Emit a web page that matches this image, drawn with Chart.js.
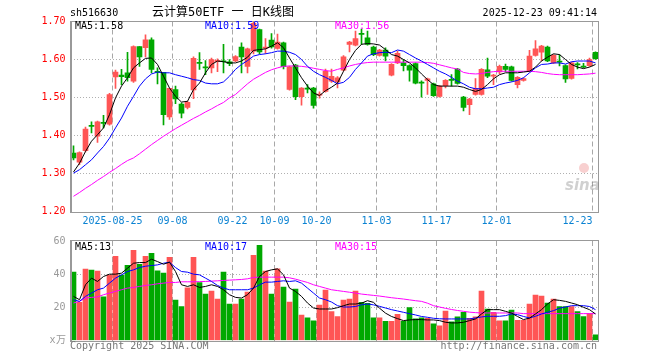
<!DOCTYPE html>
<html lang="zh-CN">
<head>
<meta charset="UTF-8">
<title>云计算50ETF 日K线图</title>
<script src="https://cdn.jsdelivr.net/npm/chart.js"></script>
<style>
  html, body { margin: 0; padding: 0; background: #fff; }
  #wrap { position: relative; width: 660px; height: 360px; }
  canvas { position: absolute; left: 0; }
  #kline { top: 0; }
  #vol { top: 230px; }
</style>
</head>
<body>
<div id="wrap">
  <canvas id="kline" width="660" height="232" style="width:660px;height:232px"></canvas>
  <canvas id="vol" width="660" height="130" style="width:660px;height:130px"></canvas>
</div>
<script>
// trading days shown on the chart
const dates = ['08-14','08-15','08-18','08-19','08-20','08-21','08-22','08-25','08-26','08-27','08-28','08-29',
  '09-01','09-02','09-03','09-04','09-05','09-08','09-09','09-10','09-11','09-12','09-15','09-16','09-17','09-18','09-19',
  '09-22','09-23','09-24','09-25','09-26','09-29','09-30',
  '10-09','10-10','10-13','10-14','10-15','10-16','10-17','10-20','10-21','10-22','10-23','10-24','10-27','10-28','10-29','10-30','10-31',
  '11-03','11-04','11-05','11-06','11-07','11-10','11-11','11-12','11-13','11-14','11-17','11-18','11-19','11-20','11-21',
  '11-24','11-25','11-26','11-27','11-28',
  '12-01','12-02','12-03','12-04','12-05','12-08','12-09','12-10','12-11','12-12','12-15','12-16','12-17','12-18','12-19','12-22','12-23'];

// date labels on the x axis
const tickIdx = [7, 17, 27, 34, 41, 51, 61, 71, 87];
const tickLabels = ['2025-08-25', '09-08', '09-22', '10-09', '10-20', '11-03', '11-17', '12-01', '12-23'];

// daily K line
const open = [
  1.354,1.330,1.360,1.427,1.398,1.434,1.430,1.554,1.559,1.565,
  1.543,1.634,1.631,1.652,1.568,1.566,1.449,1.521,1.483,1.474,
  1.520,1.592,1.580,1.578,1.594,1.596,1.594,1.596,1.633,1.582,
  1.622,1.679,1.630,1.651,1.629,1.644,1.521,1.585,1.502,1.524,
  1.525,1.506,1.516,1.543,1.541,1.572,1.640,1.638,1.668,1.657,
  1.633,1.611,1.625,1.559,1.591,1.591,1.584,1.589,1.540,1.545,
  1.536,1.503,1.531,1.547,1.575,1.501,1.481,1.508,1.508,1.573,
  1.556,1.567,1.582,1.581,1.534,1.545,1.569,1.611,1.619,1.633,
  1.591,1.595,1.584,1.550,1.588,1.583,1.584,1.619];
const close = [
  1.341,1.355,1.417,1.424,1.436,1.432,1.508,1.567,1.555,1.552,
  1.634,1.607,1.652,1.574,1.566,1.455,1.524,1.496,1.459,1.487,
  1.603,1.590,1.578,1.600,1.598,1.594,1.589,1.608,1.607,1.628,
  1.695,1.620,1.633,1.633,1.646,1.581,1.581,1.502,1.525,1.522,
  1.479,1.509,1.569,1.556,1.552,1.607,1.646,1.655,1.666,1.640,
  1.613,1.625,1.609,1.587,1.616,1.584,1.572,1.538,1.538,1.549,
  1.505,1.530,1.545,1.545,1.537,1.474,1.496,1.524,1.574,1.556,
  1.559,1.582,1.574,1.545,1.553,1.550,1.609,1.628,1.635,1.596,
  1.611,1.593,1.549,1.591,1.586,1.580,1.600,1.602];
const high = [
  1.373,1.357,1.422,1.436,1.438,1.453,1.511,1.572,1.574,1.619,
  1.636,1.634,1.665,1.657,1.578,1.566,1.524,1.530,1.486,1.490,
  1.607,1.618,1.597,1.604,1.602,1.640,1.600,1.610,1.644,1.630,
  1.705,1.680,1.655,1.668,1.667,1.646,1.583,1.587,1.526,1.534,
  1.527,1.515,1.575,1.575,1.555,1.610,1.648,1.675,1.680,1.675,
  1.635,1.627,1.631,1.589,1.622,1.600,1.586,1.591,1.544,1.551,
  1.538,1.532,1.547,1.560,1.577,1.503,1.498,1.550,1.576,1.604,
  1.561,1.585,1.588,1.583,1.555,1.552,1.624,1.650,1.637,1.635,
  1.613,1.612,1.586,1.593,1.592,1.590,1.604,1.620];
const low = [
  1.336,1.323,1.357,1.407,1.382,1.420,1.427,1.524,1.534,1.543,
  1.540,1.582,1.607,1.565,1.536,1.428,1.442,1.484,1.446,1.470,
  1.497,1.574,1.560,1.565,1.568,1.565,1.584,1.594,1.565,1.565,
  1.615,1.615,1.616,1.630,1.627,1.575,1.519,1.494,1.480,1.512,
  1.472,1.498,1.514,1.540,1.525,1.570,1.620,1.636,1.640,1.638,
  1.610,1.609,1.596,1.557,1.589,1.570,1.543,1.536,1.501,1.508,
  1.503,1.501,1.525,1.530,1.535,1.465,1.455,1.506,1.506,1.552,
  1.534,1.563,1.568,1.543,1.525,1.543,1.567,1.609,1.597,1.594,
  1.589,1.583,1.540,1.548,1.575,1.578,1.582,1.600];

// moving averages of price
const ma5 = [
  1.304,1.327,1.358,1.385,1.402,1.420,1.455,1.499,1.530,1.552,
  1.578,1.591,1.603,1.604,1.587,1.556,1.525,1.503,1.488,1.490,
  1.521,1.538,1.565,1.587,1.596,1.594,1.591,1.591,1.596,1.606,
  1.624,1.626,1.628,1.635,1.644,1.631,1.604,1.578,1.552,1.530,
  1.512,1.505,1.518,1.527,1.538,1.569,1.600,1.624,1.640,1.642,
  1.641,1.638,1.626,1.613,1.609,1.600,1.591,1.578,1.562,1.547,
  1.534,1.530,1.530,1.530,1.530,1.527,1.521,1.516,1.521,1.534,
  1.549,1.560,1.565,1.565,1.565,1.567,1.569,1.580,1.596,1.606,
  1.615,1.613,1.600,1.587,1.580,1.576,1.580,1.587];
const ma10 = [
  1.301,1.310,1.323,1.336,1.354,1.371,1.393,1.420,1.446,1.477,
  1.503,1.530,1.549,1.562,1.567,1.565,1.565,1.560,1.556,1.552,
  1.547,1.545,1.538,1.536,1.536,1.541,1.556,1.574,1.587,1.597,
  1.609,1.613,1.615,1.618,1.622,1.622,1.619,1.613,1.600,1.582,
  1.569,1.560,1.553,1.545,1.536,1.540,1.553,1.574,1.591,1.609,
  1.615,1.618,1.619,1.618,1.625,1.622,1.613,1.604,1.596,1.587,
  1.578,1.569,1.562,1.553,1.543,1.536,1.527,1.523,1.523,1.525,
  1.527,1.534,1.538,1.541,1.545,1.552,1.565,1.578,1.587,1.588,
  1.591,1.591,1.588,1.594,1.596,1.596,1.596,1.591];
const ma30 = [
  1.240,1.250,1.261,1.271,1.282,1.292,1.303,1.313,1.324,1.334,
  1.341,1.352,1.364,1.376,1.387,1.398,1.408,1.418,1.427,1.436,
  1.445,1.453,1.462,1.470,1.479,1.487,1.499,1.508,1.522,1.536,
  1.548,1.557,1.566,1.573,1.578,1.582,1.583,1.583,1.582,1.580,
  1.577,1.574,1.571,1.569,1.574,1.578,1.583,1.587,1.590,1.592,
  1.593,1.593,1.593,1.593,1.593,1.593,1.593,1.593,1.593,1.592,
  1.590,1.586,1.582,1.578,1.575,1.566,1.563,1.562,1.563,1.566,
  1.568,1.569,1.569,1.569,1.569,1.569,1.569,1.568,1.566,1.563,
  1.561,1.560,1.560,1.560,1.560,1.561,1.562,1.564];

// volume (x万) and its moving averages
const volume = [
  41.2,23.0,43.0,42.4,41.8,26.4,39.4,50.8,39.4,45.4,
  54.4,46.0,50.8,52.6,42.0,40.6,50.2,24.4,20.4,31.8,
  50.2,35.0,28.0,29.8,25.0,41.2,22.0,22.0,25.0,29.2,
  51.4,57.4,41.8,28.0,43.2,32.2,23.2,31.0,15.4,13.6,
  11.8,21.4,30.4,17.4,14.4,24.4,25.0,29.8,23.0,22.4,
  13.6,13.6,11.6,11.6,15.8,11.6,19.8,13.0,13.6,13.4,
  10.0,8.8,17.8,11.2,14.2,17.0,13.4,14.2,29.8,19.0,
  17.0,11.8,11.8,18.4,12.2,12.2,22.0,27.4,26.8,22.6,
  25.0,20.4,20.4,20.4,17.4,14.4,16.2,3.4];
const volMa5 = [
  26.6,24.6,33.6,37.6,35.6,38.6,40.0,40.0,40.6,43.6,
  46.6,47.0,47.0,49.0,47.6,46.0,47.2,41.6,33.6,32.6,
  33.6,32.0,32.6,33.6,32.6,30.6,27.6,26.0,25.6,27.6,
  31.6,38.6,41.6,42.6,43.2,39.6,31.6,29.6,26.6,22.6,
  19.6,19.0,19.0,19.0,19.8,21.0,22.0,22.0,22.5,24.0,
  23.0,19.5,16.5,14.5,13.2,12.0,12.4,12.6,12.6,12.4,
  12.4,12.0,11.0,10.6,10.6,11.0,12.0,13.0,16.0,18.6,
  18.6,18.6,17.6,16.5,14.5,12.6,13.5,16.0,18.6,22.0,
  24.6,24.2,23.6,22.6,21.6,20.0,18.6,16.0];
const volMa10 = [
  24.6,23.6,26.6,28.6,30.6,31.6,34.6,37.6,39.6,41.6,
  42.6,44.0,44.8,45.2,45.6,46.6,47.2,44.0,41.6,41.2,
  40.0,39.6,37.6,35.6,33.2,31.6,30.6,30.6,30.6,30.6,
  31.6,33.6,35.2,35.2,35.6,36.0,35.6,36.0,34.6,31.6,
  28.6,25.6,24.6,23.2,21.0,20.2,20.2,20.5,21.5,22.0,
  21.5,20.6,19.6,18.6,17.8,17.0,16.2,15.4,14.5,14.0,
  13.4,13.1,13.0,13.0,13.0,13.0,13.0,13.6,14.2,14.6,
  14.6,14.6,15.0,16.0,15.6,14.5,13.6,14.6,16.0,17.0,
  18.0,19.5,20.2,21.0,21.0,21.0,20.5,18.6];
const volMa30 = [
  22.6,23.6,25.6,26.0,26.3,27.6,28.6,29.6,30.6,31.6,
  32.0,32.6,33.2,33.6,34.2,34.6,35.0,35.0,35.4,35.4,
  35.4,35.5,35.6,35.8,36.0,36.2,36.4,36.6,36.8,37.2,
  38.0,38.2,38.2,38.2,38.2,38.2,37.8,37.0,36.0,35.0,
  33.6,32.6,31.6,30.6,30.1,29.6,29.1,28.6,28.0,27.6,
  27.2,26.8,26.3,25.8,25.4,25.0,24.5,24.0,23.6,22.5,
  21.0,20.2,19.4,18.7,18.1,17.6,17.1,16.8,16.6,16.6,
  16.6,16.6,16.6,16.6,16.6,16.2,16.2,16.2,16.2,16.2,
  16.2,16.2,16.2,16.2,16.2,16.2,16.2,16.2];

// legend texts as printed on the chart
const priceLegend = ['MA5:1.58', 'MA10:1.59', 'MA30:1.56'];
const volLegend = ['MA5:13', 'MA10:17', 'MA30:15'];

const RED = '#ff5555';
const GREEN = '#00a800';
const MA_COLORS = ['#000000', '#0000ff', '#ff00ff'];
const MONO = '"DejaVu Sans Mono", "Liberation Mono", monospace';
const CLEAR = 'rgba(0,0,0,0)';

const barColor = close.map((c, i) => c >= open[i] ? RED : GREEN);

Chart.defaults.font.family = MONO;
Chart.defaults.font.size = 10;

function maLine(label, data, color) {
    return {
        type: 'line', label: label, data: data,
        borderColor: color, borderWidth: 1,
        pointRadius: 0, tension: 0, order: 0
    };
}

// gray frame around the plot
function drawFrame(ctx, a) {
    ctx.save();
    ctx.strokeStyle = '#999';
    ctx.lineWidth = 1;
    ctx.strokeRect(Math.round(a.left) + 0.5, Math.round(a.top) - 0.5,
        Math.round(a.right - a.left) - 1, Math.round(a.bottom - a.top) + 1);
    ctx.fillStyle = '#999';
    ctx.fillRect(Math.round(a.left) - 1, Math.round(a.top) - 1, 2, Math.round(a.bottom - a.top) + 2);
    ctx.restore();
}

function drawLegend(ctx, texts, y) {
    const xs = [75, 205, 335];
    ctx.save();
    ctx.font = '10px ' + MONO;
    ctx.textBaseline = 'middle';
    texts.forEach((t, i) => {
        ctx.fillStyle = MA_COLORS[i];
        ctx.fillText(t, xs[i], y);
    });
    ctx.restore();
}

// vertical dashed lines only at labelled dates
function xAxis(h) {
    return {
        type: 'category',
        offset: true,
        grid: {
            offset: true,
            drawTicks: false,
            color: c => tickIdx.includes(c.index) ? '#a8a8a8' : CLEAR
        },
        border: { display: false, dash: [5, 3] },
        ticks: { display: false },
        afterFit: s => { s.height = h; }
    };
}

const klinePlugin = {
    id: 'klineDecor',
    afterDraw(chart) {
        const ctx = chart.ctx;
        const x = chart.scales.x;
        drawFrame(ctx, chart.chartArea);

        // date labels under the price panel
        const half = (x.getPixelForValue(1) - x.getPixelForValue(0)) / 2;
        ctx.save();
        ctx.font = '10px ' + MONO;
        ctx.fillStyle = '#0a82d2';
        ctx.textBaseline = 'middle';
        tickIdx.forEach((idx, k) => {
            const px = x.getPixelForValue(idx) - half;
            ctx.textAlign = k === tickIdx.length - 1 ? 'right' : 'center';
            ctx.fillText(tickLabels[k], px, 221);
        });

        // header line
        ctx.fillStyle = '#000';
        ctx.textAlign = 'left';
        ctx.fillText('sh516630', 70, 13);
        ctx.textAlign = 'right';
        ctx.fillText('2025-12-23 09:41:14', 597, 13);
        ctx.textAlign = 'center';
        ctx.font = '12px "DejaVu Sans Mono", "Noto Sans CJK SC", sans-serif';
        ctx.fillText('云计算50ETF 一 日K线图', 223, 13);

        // faint sina mark
        ctx.fillStyle = 'rgba(235,120,120,0.35)';
        ctx.beginPath();
        ctx.arc(584, 168, 5, 0, Math.PI * 2);
        ctx.fill();
        ctx.fillStyle = 'rgba(120,120,120,0.35)';
        ctx.font = 'italic bold 15px "DejaVu Sans", sans-serif';
        ctx.textAlign = 'left';
        ctx.fillText('sina', 565, 186);
        ctx.restore();

        drawLegend(ctx, priceLegend, 26);
    }
};

const volPlugin = {
    id: 'volDecor',
    afterDraw(chart) {
        const ctx = chart.ctx;
        drawFrame(ctx, chart.chartArea);
        drawLegend(ctx, volLegend, 17);
        ctx.save();
        ctx.font = '10px ' + MONO;
        ctx.fillStyle = '#777';
        ctx.textBaseline = 'middle';
        ctx.textAlign = 'left';
        ctx.fillText('Copyright 2025 SINA.COM', 70, 116);
        ctx.textAlign = 'right';
        ctx.fillText('http://finance.sina.com.cn', 597, 116);
        ctx.restore();
    }
};

new Chart(document.getElementById('kline'), {
    type: 'bar',
    data: {
        labels: dates,
        datasets: [
            maLine('MA5', ma5, MA_COLORS[0]),
            maLine('MA10', ma10, MA_COLORS[1]),
            maLine('MA30', ma30, MA_COLORS[2]),
            {
                label: 'body',
                data: open.map((o, i) => [o, close[i]]),
                backgroundColor: barColor,
                barThickness: 5, minBarLength: 1,
                grouped: false, order: 1
            },
            {
                label: 'wick',
                data: low.map((l, i) => [l, high[i]]),
                backgroundColor: barColor,
                barThickness: 1,
                grouped: false, order: 2
            }
        ]
    },
    options: {
        responsive: false,
        animation: false,
        layout: { padding: { top: 21.5, right: 61.5, left: 0, bottom: 0 } },
        plugins: { legend: { display: false }, tooltip: { enabled: false } },
        scales: {
            x: xAxis(20.5),
            y: {
                min: 1.2, max: 1.7,
                ticks: {
                    stepSize: 0.1, color: '#ff0000', padding: 5,
                    font: { family: MONO, size: 10 },
                    callback: v => Number(v).toFixed(2)
                },
                grid: {
                    drawTicks: false,
                    color: c => (c.tick && c.tick.value > 1.25 && c.tick.value < 1.65) ? '#b0b0b0' : CLEAR
                },
                border: { display: false, dash: [1, 2] },
                afterFit: s => { s.width = 70.5; }
            }
        }
    },
    plugins: [klinePlugin]
});

new Chart(document.getElementById('vol'), {
    type: 'bar',
    data: {
        labels: dates,
        datasets: [
            maLine('MA5', volMa5, MA_COLORS[0]),
            maLine('MA10', volMa10, MA_COLORS[1]),
            maLine('MA30', volMa30, MA_COLORS[2]),
            {
                label: 'volume',
                data: volume,
                backgroundColor: barColor,
                barThickness: 5,
                grouped: false, order: 1
            }
        ]
    },
    options: {
        responsive: false,
        animation: false,
        layout: { padding: { top: 10.5, right: 61.5, left: 0, bottom: 0 } },
        plugins: { legend: { display: false }, tooltip: { enabled: false } },
        scales: {
            x: xAxis(19.5),
            y: {
                min: 0, max: 60,
                ticks: {
                    stepSize: 20, color: '#999', padding: 5,
                    font: { family: MONO, size: 10 },
                    callback: v => v === 0 ? 'x万' : v
                },
                grid: {
                    drawTicks: false,
                    color: c => (c.tick && c.tick.value > 0 && c.tick.value < 60) ? '#b0b0b0' : CLEAR
                },
                border: { display: false, dash: [1, 2] },
                afterFit: s => { s.width = 70.5; }
            }
        }
    },
    plugins: [volPlugin]
});
</script>
</body>
</html>
